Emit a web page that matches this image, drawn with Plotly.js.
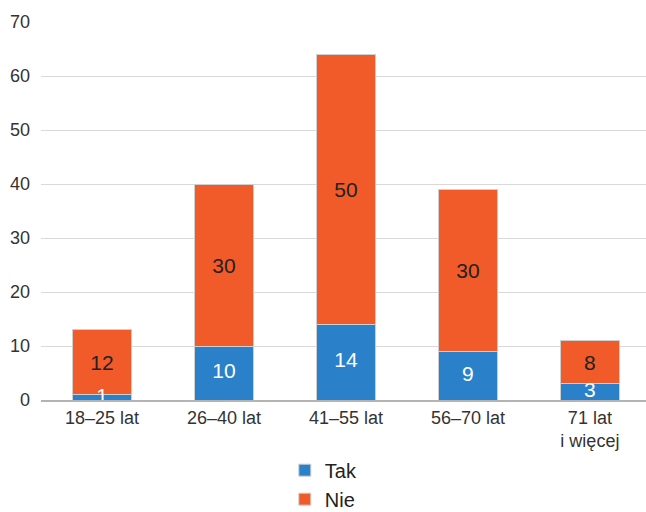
<!DOCTYPE html>
<html>
<head>
<meta charset="utf-8">
<script src="https://cdn.plot.ly/plotly-3.0.1.min.js"></script>
<style>
  html, body { margin: 0; padding: 0; background: #fff; }
  #chart { width: 646px; height: 512px; }
</style>
</head>
<body>
<div id="chart"></div>
<script>
// Age groups and answers (stacked: Tak below, Nie on top)
const categories = ['18–25 lat', '26–40 lat', '41–55 lat', '56–70 lat', '71 lat<br>i więcej'];
const takValues = [1, 10, 14, 9, 3];
const nieValues = [12, 30, 50, 30, 8];
const yTicks = [0, 10, 20, 30, 40, 50, 60, 70];

const fontFamily = 'Liberation Sans, Arial, sans-serif';
const outline = { color: '#cfcfcf', width: 1 };

const traces = [
  {
    type: 'bar',
    name: 'Tak',
    x: categories,
    y: takValues,
    marker: { color: '#2a81c9', line: outline },
    width: 0.48,
    hoverinfo: 'none'
  },
  {
    type: 'bar',
    name: 'Nie',
    x: categories,
    y: nieValues,
    text: nieValues.map(String),
    textposition: 'inside',
    insidetextanchor: 'middle',
    textangle: 0,
    constraintext: 'none',
    textfont: { family: fontFamily, size: 21, color: '#222222' },
    marker: { color: '#f15a29', line: outline },
    width: 0.48,
    hoverinfo: 'none'
  },
  {
    // Tak value labels, drawn above both bar layers so short bars keep a readable label
    type: 'scatter',
    mode: 'text',
    x: categories,
    y: takValues.map(v => v / 2),
    text: takValues.map(String),
    textposition: 'middle center',
    textfont: { family: fontFamily, size: 21, color: '#ffffff' },
    cliponaxis: true,
    showlegend: false,
    hoverinfo: 'none'
  }
];

const layout = {
  width: 646,
  height: 512,
  margin: { l: 41, r: 0, t: 22, b: 112, autoexpand: false },
  barmode: 'stack',
  paper_bgcolor: '#ffffff',
  plot_bgcolor: '#ffffff',
  font: { family: fontFamily, color: '#333333', size: 18 },
  showlegend: true,
  legend: {
    orientation: 'v',
    x: 0.403,
    xanchor: 'left',
    y: -0.134,
    yanchor: 'top',
    traceorder: 'normal',
    font: { family: fontFamily, size: 20, color: '#222222' },
    bgcolor: 'rgba(0,0,0,0)'
  },
  xaxis: {
    type: 'category',
    range: [-0.5, 4.46],
    showgrid: false,
    showline: true,
    linecolor: '#b3b3b3',
    linewidth: 2,
    ticks: '',
    tickfont: { family: fontFamily, size: 18, color: '#333333' },
    fixedrange: true
  },
  yaxis: {
    range: [0, 70],
    tickvals: yTicks,
    ticktext: yTicks.map(String),
    showgrid: true,
    gridcolor: '#d9d9d9',
    gridwidth: 1,
    zeroline: false,
    showline: false,
    ticks: '',
    ticklabelstandoff: 10,
    tickfont: { family: fontFamily, size: 18, color: '#333333' },
    fixedrange: true
  }
};

Plotly.newPlot('chart', traces, layout, { displayModeBar: false, staticPlot: true });
</script>
</body>
</html>
